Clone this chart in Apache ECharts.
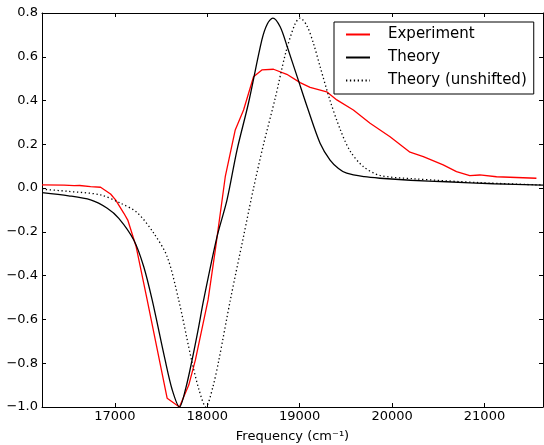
<!DOCTYPE html>
<html lang="en">
<head>
    <meta charset="UTF-8">
    <script type="text/javascript" src="https://cdn.jsdelivr.net/npm/echarts@6/dist/echarts.min.js"></script>
    <title>Spectrum</title>
</head>
<body style="margin:0">
<div id="chart" style="width: 544px;height:445px;"></div>
<script type="text/javascript">
    // experiment (red)
    var expFreq = [16212, 16450, 16560, 16620, 16738, 16846, 16954, 17008, 17098, 17140, 17231, 17350, 17566, 17699, 17800, 17872, 18009, 18087, 18195, 18303, 18393, 18501, 18591, 18717, 18861, 19005, 19113, 19293, 19402, 19581, 19762, 19978, 20194, 20338, 20553, 20697, 20841, 20949, 21130, 21562];
    var expVal = [0.015, 0.014, 0.011, 0.012, 0.007, 0.004, -0.027, -0.054, -0.115, -0.146, -0.268, -0.511, -0.96, -1.0, -0.90, -0.785, -0.511, -0.283, 0.052, 0.266, 0.357, 0.509, 0.54, 0.543, 0.52, 0.482, 0.46, 0.44, 0.403, 0.357, 0.296, 0.235, 0.164, 0.144, 0.106, 0.075, 0.057, 0.06, 0.052, 0.045];

    // theory (solid black)
    var thFreq = [16212, 16500, 16738, 16918, 17043, 17205, 17313, 17404, 17544, 17620, 17699, 17770, 17836, 17900, 17961, 18106, 18214, 18322, 18447, 18591, 18650, 18710, 18789, 18870, 18980, 19090, 19221, 19329, 19420, 19509, 19700, 19869, 20200, 20589, 21100, 21633];
    var thVal = [-0.021, -0.035, -0.054, -0.092, -0.138, -0.237, -0.359, -0.511, -0.785, -0.92, -1.0, -0.91, -0.785, -0.65, -0.511, -0.222, -0.054, 0.174, 0.39, 0.677, 0.75, 0.777, 0.737, 0.64, 0.50, 0.36, 0.205, 0.128, 0.09, 0.068, 0.052, 0.045, 0.036, 0.029, 0.02, 0.014];

    // theory unshifted (dotted)
    var unFreq = [16212, 16500, 16846, 17062, 17242, 17421, 17566, 17691, 17830, 17910, 17985, 18060, 18126, 18250, 18393, 18501, 18609, 18735, 18850, 18950, 19005, 19080, 19150, 19221, 19329, 19437, 19545, 19689, 19869, 20229, 20949, 21633];
    var unVal = [-0.005, -0.015, -0.031, -0.069, -0.112, -0.206, -0.313, -0.511, -0.785, -0.92, -1.0, -0.91, -0.785, -0.511, -0.22, 0.0, 0.2, 0.41, 0.62, 0.75, 0.777, 0.74, 0.66, 0.555, 0.40, 0.27, 0.17, 0.098, 0.058, 0.043, 0.025, 0.014];

    var xTicks = [17000, 18000, 19000, 20000, 21000];
    var yTicks = [-1.0, -0.8, -0.6, -0.4, -0.2, 0.0, 0.2, 0.4, 0.6, 0.8];

    function zip(a, b) {
        return a.map(function (v, i) { return [v, b[i]]; });
    }

    var font = 'DejaVu Sans';
    var chart = echarts.init(document.getElementById('chart'));

    function xAxisOf(pos, show) {
        return {
            type: 'value', position: pos, min: 16212, max: 21633,
            axisLine: {onZero: false, lineStyle: {color: '#000', width: 1}},
            axisTick: {inside: true, length: 4, customValues: xTicks, lineStyle: {color: '#000'}},
            axisLabel: {
                show: show, customValues: xTicks, margin: 3, color: '#000', fontSize: 13, fontFamily: font,
                formatter: function (v) { return String(v); }
            },
            splitLine: {show: false}
        };
    }
    function yAxisOf(pos, show) {
        return {
            type: 'value', position: pos, min: -1.0, max: 0.8,
            axisLine: {onZero: false, lineStyle: {color: '#000', width: 1}},
            axisTick: {inside: true, length: 4, customValues: yTicks, lineStyle: {color: '#000'}},
            axisLabel: {
                show: show, customValues: yTicks, margin: 4, color: '#000', fontSize: 13, fontFamily: font,
                formatter: function (v) { return v.toFixed(1).replace('-', '\u2212'); }
            },
            splitLine: {show: false}
        };
    }

    var xb = xAxisOf('bottom', true);
    xb.name = 'Frequency (cm\u207B\u00B9)';
    xb.nameLocation = 'middle';
    xb.nameGap = 23;
    xb.nameTextStyle = {color: '#000', fontSize: 13, fontFamily: font};

    chart.setOption({
        animation: false,
        grid: {left: 42, right: 1, top: 13, bottom: 38, outerBoundsMode: 'none'},
        legend: {
            orient: 'vertical', left: 334, top: 22,
            padding: [5, 7, 6, 11],
            borderColor: '#000', borderWidth: 1,
            itemWidth: 24, itemHeight: 16, itemGap: 8,
            itemStyle: {opacity: 0},
            textStyle: {color: '#000', fontSize: 15, fontFamily: font, padding: [0, 0, 0, 13]},
            data: ['Experiment', 'Theory', 'Theory (unshifted)']
        },
        xAxis: [xb, xAxisOf('top', false)],
        yAxis: [yAxisOf('left', true), yAxisOf('right', false)],
        series: [{
            name: 'Experiment', type: 'line', symbol: 'none',
            lineStyle: {color: '#ff0000', width: 1.3}, itemStyle: {color: '#ff0000'},
            data: zip(expFreq, expVal)
        }, {
            name: 'Theory', type: 'line', symbol: 'none', smooth: 0.3,
            lineStyle: {color: '#000', width: 1.3}, itemStyle: {color: '#000'},
            data: zip(thFreq, thVal)
        }, {
            name: 'Theory (unshifted)', type: 'line', symbol: 'none', smooth: 0.3,
            lineStyle: {color: '#000', width: 1.3, type: [1.3, 2.6]}, itemStyle: {color: '#000'},
            data: zip(unFreq, unVal)
        }]
    });
</script>
</body>
</html>
